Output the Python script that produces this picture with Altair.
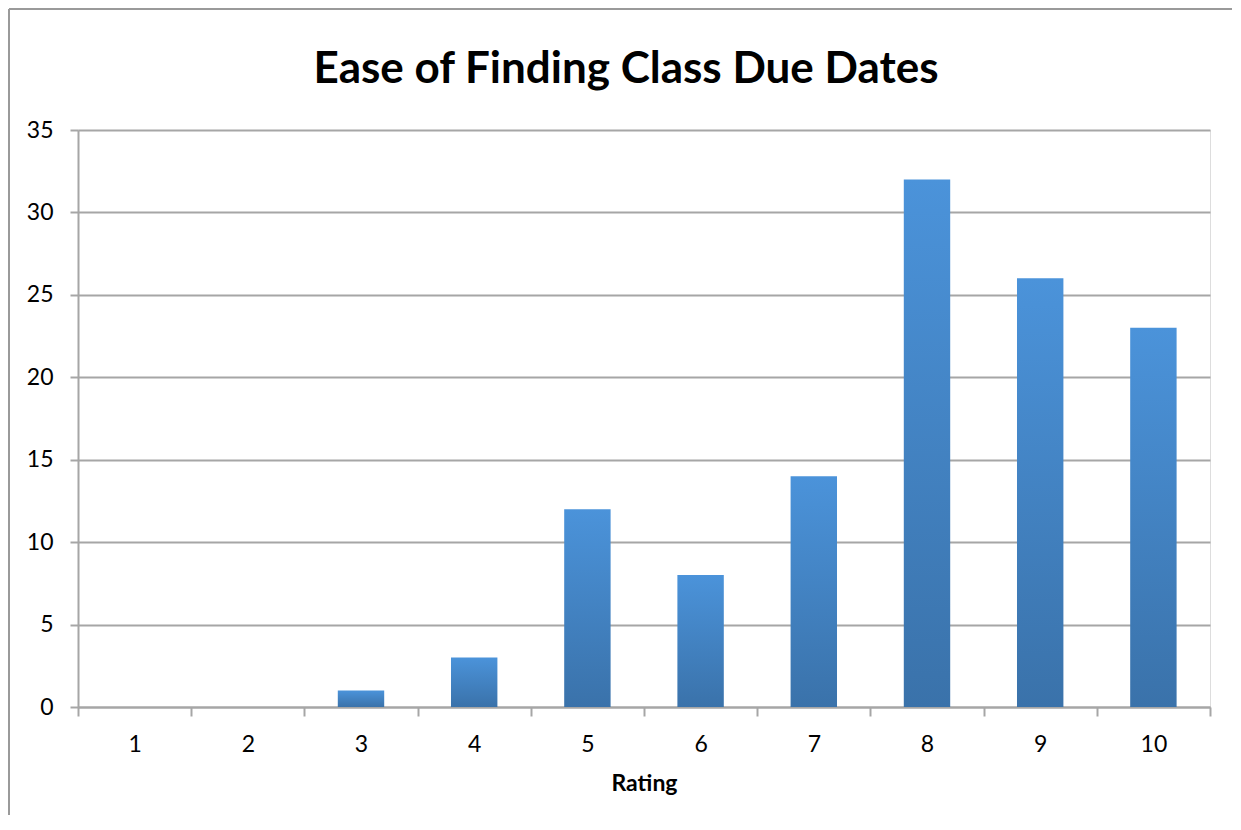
import altair as alt
import pandas as pd

ratings = ["1", "2", "3", "4", "5", "6", "7", "8", "9", "10"]
counts = [0, 0, 1, 3, 12, 8, 14, 32, 26, 23]

df = pd.DataFrame({"Rating": ratings, "Count": counts})

FONT = "Lato"
GRID = "#a6a6a6"

bars = alt.Chart(df).mark_bar(
    width=alt.RelativeBandSize(0.41),
    color=alt.Gradient(
        gradient="linear",
        stops=[alt.GradientStop(color="#4b93da", offset=0),
               alt.GradientStop(color="#3a72aa", offset=1)],
        x1=0, x2=0, y1=0, y2=1,
    )
).encode(
    x=alt.X("Rating:N", sort=ratings,
            scale=alt.Scale(paddingInner=0, paddingOuter=0),
            axis=alt.Axis(title="Rating", labelAngle=0, tickBand="extent",
                          tickSize=9, tickWidth=2, tickColor=GRID,
                          domainColor=GRID, domainWidth=2,
                          labelPadding=17, labelFontSize=23, labelFont=FONT,
                          labelColor="black", titleFont=FONT, titleFontSize=23,
                          titleFontWeight="bold", titlePadding=16, grid=False)),
    y=alt.Y("Count:Q", scale=alt.Scale(domain=[0, 35]),
            axis=alt.Axis(title=None, values=[0, 5, 10, 15, 20, 25, 30, 35],
                          tickSize=8, tickWidth=2, tickColor=GRID,
                          domainColor=GRID, domainWidth=2,
                          gridColor=GRID, gridWidth=2,
                          labelPadding=17, labelFontSize=23, labelFont=FONT,
                          labelColor="black")),
)

frame_left = alt.Chart(df).mark_rule(color="#9a9a9a", strokeWidth=2).encode(
    x=alt.value(-69), y=alt.value(-121), y2=alt.value(740)
)
frame_top = alt.Chart(df).mark_rule(color="#9a9a9a", strokeWidth=2).encode(
    x=alt.value(-69), x2=alt.value(1200), y=alt.value(-121)
)

chart = alt.layer(frame_left, frame_top, bars).properties(
    width=1132, height=577,
    title=alt.TitleParams("Ease of Finding Class Due Dates", font=FONT,
                          fontSize=44, fontWeight="bold", color="black",
                          anchor="middle", offset=-84, dx=-18),
    autosize=alt.AutoSizeParams(type="none"),
    padding={"left": 70, "top": 122, "right": 22, "bottom": 108},
).configure_view(stroke=None).configure(background="white")

chart.save("out.html", embed_options={"renderer": "svg", "actions": False})
